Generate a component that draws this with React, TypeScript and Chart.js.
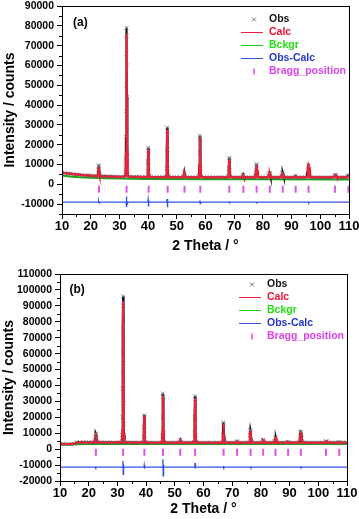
import React, { useEffect, useRef } from 'react';
import { Chart, registerables } from 'chart.js';

Chart.register(...registerables);

type P = [number, number];

const FONT = "'Liberation Sans', Arial, Helvetica, sans-serif";

// ---------- shared labels / colours ----------
const seriesNames = ['Obs', 'Calc', 'Bckgr', 'Obs-Calc', 'Bragg_position'];
const textColors = ['#111111', '#ee1030', '#22dd11', '#2236cc', '#dd44ee'];
const lineColors = ['#777777', '#f0203a', '#22cc22', '#3552e6', '#e050ea'];
const xTitle = '2 Theta / °';
const yTitle = 'Intensity / counts';
const xRange: P = [10, 110];
const xStep = 10;
const xMinorStep = 5;

// ---------- panel (a) ----------
const yRangeA: P = [-15000, 90000];
const yTicksA = [-10000, 0, 10000, 20000, 30000, 40000, 50000, 60000, 70000, 80000, 90000];
const obsA: P[] = [
  [10, 5900], [11, 5700], [12, 5500], [13, 5350], [14, 5150], [15, 5000], [16, 4850], [17, 4700], [18, 4550], [19, 4450], [20, 4350], [21, 4250], [22, 4200],
  [22.5, 4600], [22.65, 7200], [22.75, 9600], [22.85, 9300], [22.95, 7000], [23.1, 4700],
  [23.5, 4150], [24.5, 4100], [25.5, 4000], [26.5, 3950], [27.5, 3900], [28.5, 3850], [29.5, 3800], [30.5, 3800], [31.5, 3800],
  [32.1, 4600], [32.2, 7000], [32.25, 13000], [32.3, 24000], [32.35, 37000], [32.4, 50000], [32.45, 66000], [32.5, 79000], [32.55, 75000], [32.6, 60000], [32.65, 44000], [32.7, 29000], [32.75, 16000], [32.8, 8500], [32.9, 5200],
  [33.3, 3900], [34, 3800], [35, 3750], [36, 3700], [37, 3700], [38, 3650], [39, 3650], [39.7, 3800],
  [39.85, 6500], [39.95, 11000], [40.05, 18400], [40.1, 17000], [40.2, 11500], [40.3, 6000], [40.5, 3900],
  [41, 3650], [42, 3600], [43, 3600], [44, 3600], [45, 3600], [46, 3650], [46.3, 4000],
  [46.45, 8000], [46.55, 17000], [46.65, 28700], [46.7, 27000], [46.8, 17500], [46.9, 8000], [47.1, 4000],
  [48, 3600], [49, 3550], [50, 3550], [51, 3550], [52, 3550], [52.4, 4200], [52.6, 6000], [52.8, 4200],
  [53.5, 3550], [54.5, 3500], [55.5, 3500], [56.5, 3500], [57.5, 3600], [57.7, 4500],
  [57.85, 9000], [57.95, 16000], [58.05, 24500], [58.1, 23500], [58.2, 15500], [58.3, 8000], [58.5, 4000],
  [59.5, 3500], [60.5, 3500], [61.5, 3500], [62.5, 3500], [63.5, 3500], [64.5, 3500], [65.5, 3500], [66.5, 3500], [67.5, 3500], [67.9, 4200],
  [68.1, 8000], [68.25, 13400], [68.35, 12500], [68.5, 7000], [68.7, 4000],
  [69.5, 3500], [70.5, 3500], [71.5, 3500], [72.5, 3500], [72.9, 4000], [73.1, 4800], [73.3, 4000],
  [74, 3500], [75, 3500], [76, 3500], [77, 3500], [77.4, 4200], [77.6, 7500], [77.75, 10200], [77.85, 9600], [78.0, 6500], [78.2, 4000],
  [79, 3500], [80, 3500], [81, 3500], [81.9, 3900], [82.1, 5600], [82.3, 5800], [82.5, 5300], [82.7, 3900],
  [83.5, 3500], [84.5, 3500], [85.5, 3500], [86.4, 3900], [86.7, 5800], [86.9, 6000], [87.1, 5000], [87.3, 3800],
  [88, 3500], [89, 3500], [90, 3500], [91, 3600], [91.4, 4200], [91.7, 3600],
  [92.5, 3500], [93.5, 3500], [94.5, 3500], [95.3, 4000], [95.6, 7000], [95.8, 9600], [96.0, 9400], [96.2, 7500], [96.4, 4500],
  [97, 3500], [98, 3500], [99, 3500], [100, 3500], [101, 3500], [102, 3500], [103, 3500], [104, 3500], [104.8, 3900], [105.1, 4800], [105.4, 4700], [105.7, 3900],
  [106.5, 3500], [107.5, 3500], [108.5, 3500], [109.3, 3700], [109.7, 4500], [110, 4000],
];
const calcA: P[] = [
  [10, 5700], [15, 4900], [20, 4300], [22.4, 4150], [22.6, 5500], [22.75, 8800], [22.9, 5500], [23.1, 4100],
  [30, 3800], [32.1, 3900], [32.3, 16000], [32.5, 76000], [32.7, 16000], [32.9, 3900],
  [39.8, 3650], [39.95, 8000], [40.05, 17500], [40.2, 8000], [40.4, 3650],
  [46.3, 3600], [46.5, 9000], [46.65, 27500], [46.8, 9000], [47.0, 3600],
  [52.3, 3550], [52.6, 5600], [52.9, 3550],
  [57.7, 3500], [57.9, 10000], [58.05, 23500], [58.2, 10000], [58.4, 3500],
  [67.9, 3500], [68.1, 7500], [68.25, 12500], [68.4, 7500], [68.6, 3500],
  [72.8, 3500], [73.1, 4400], [73.4, 3500],
  [77.4, 3500], [77.6, 7000], [77.8, 9500], [78.0, 7000], [78.2, 3500],
  [81.9, 3500], [82.2, 5200], [82.4, 5300], [82.7, 3500],
  [86.5, 3500], [86.8, 5500], [87.0, 5400], [87.3, 3500],
  [91.1, 3500], [91.4, 4000], [91.7, 3500],
  [95.4, 3500], [95.7, 7500], [95.9, 9300], [96.1, 8000], [96.4, 3500],
  [104.9, 3500], [105.2, 4600], [105.5, 4500], [105.8, 3500],
  [109.4, 3500], [109.8, 4300], [110, 4000],
];
const bkgA: P[] = [
  [10, 4400], [12, 4100], [15, 3700], [20, 3300], [25, 3050], [30, 2900], [40, 2700], [60, 2550], [80, 2500], [110, 2450],
];
const diffA: P[] = [
  [10, -9000], [22.6, -9000], [22.75, -8500], [22.9, -9400], [23.1, -9000],
  [32.3, -9000], [32.4, -6200], [32.5, -11600], [32.6, -7800], [32.7, -10000], [32.85, -9000],
  [39.9, -9000], [40.0, -7800], [40.1, -11300], [40.2, -8400], [40.3, -9000],
  [46.5, -9000], [46.6, -7400], [46.7, -11600], [46.8, -8200], [46.9, -9000],
  [58.0, -9000], [58.05, -8200], [58.15, -9800], [58.3, -9000],
  [68.2, -9000], [68.25, -8600], [68.35, -9300], [68.5, -9000],
  [77.7, -9000], [77.8, -8700], [77.9, -9200], [78.0, -9000],
  [95.8, -9000], [95.9, -8700], [96.0, -9300], [96.1, -9000],
  [110, -9000],
];
const braggA = [22.9, 32.5, 40.2, 46.8, 52.7, 58.2, 68.3, 73.2, 77.8, 82.4, 86.9, 91.4, 95.9, 105.1, 109.8];
const braggLevelA = -2500;

// ---------- panel (b) ----------
const yRangeB: P = [-20000, 110000];
const yTicksB = [-20000, -10000, 0, 10000, 20000, 30000, 40000, 50000, 60000, 70000, 80000, 90000, 100000, 110000];
const obsB: P[] = [
  [10, 3300], [11, 3300], [12, 3250], [13, 3250], [14, 3300], [15, 3350], [15.8, 4300], [17, 4400], [18, 4400], [19, 4350], [20, 4350], [21, 4300], [21.8, 4300],
  [22.1, 4800], [22.3, 7500], [22.45, 9900], [22.55, 9500], [22.7, 7000], [22.9, 4600],
  [23.5, 4300], [24.5, 4300], [25.5, 4250], [26.5, 4250], [27.5, 4200], [28.5, 4200], [29.5, 4200], [30.5, 4200], [31.4, 4300],
  [31.6, 5000], [31.7, 9000], [31.75, 20000], [31.8, 38000], [31.85, 48000], [31.9, 61000], [31.95, 75500], [32.0, 96000], [32.05, 90000], [32.1, 54000], [32.15, 38000], [32.2, 29000], [32.25, 16000], [32.3, 9000], [32.4, 5500], [32.6, 4300],
  [33.5, 4200], [34.5, 4200], [35.5, 4150], [36.5, 4150], [37.5, 4150], [38.5, 4150], [39.0, 4300],
  [39.15, 7500], [39.25, 14000], [39.35, 21400], [39.4, 20000], [39.5, 12000], [39.6, 6500], [39.8, 4300],
  [40.5, 4150], [41.5, 4100], [42.5, 4100], [43.5, 4100], [44.5, 4100], [45.5, 4200],
  [45.65, 8000], [45.75, 20000], [45.85, 35000], [45.9, 33000], [46.0, 21000], [46.1, 10000], [46.3, 4500],
  [47, 4100], [48, 4100], [49, 4100], [50, 4100], [51, 4100], [51.6, 4500], [51.9, 5800], [52.2, 4500],
  [53, 4100], [54, 4100], [55, 4100], [56, 4100], [56.7, 4600],
  [56.85, 10000], [56.95, 20000], [57.05, 33300], [57.1, 31500], [57.2, 19000], [57.3, 9000], [57.5, 4500],
  [58.5, 4100], [59.5, 4100], [60.5, 4100], [61.5, 4100], [62.5, 4100], [63.5, 4100], [64.5, 4100], [65.5, 4100], [66.5, 4200],
  [66.75, 9000], [66.9, 16800], [67.0, 15500], [67.15, 8000], [67.35, 4300],
  [68.5, 4100], [69.5, 4100], [70.5, 4100], [71.4, 4300], [71.7, 5000], [72.0, 4300],
  [73, 4100], [74, 4100], [75, 4100], [75.9, 4500], [76.15, 9000], [76.3, 12000], [76.4, 11000], [76.6, 6500], [76.8, 4300],
  [78, 4100], [79, 4100], [80, 4100], [80.4, 4400], [80.7, 5700], [80.9, 5400], [81.2, 4300],
  [82.5, 4100], [83.5, 4100], [84.5, 4200], [84.8, 5000], [85.0, 7000], [85.2, 7400], [85.4, 6000], [85.7, 4300],
  [86.5, 4100], [87.5, 4100], [88.5, 4100], [89.1, 4200], [89.4, 4500], [89.7, 4200],
  [90.5, 4100], [91.5, 4100], [92.5, 4100], [93.3, 4600], [93.6, 8000], [93.8, 10900], [94.0, 10500], [94.2, 7000], [94.5, 4400],
  [95.5, 4100], [96.5, 4100], [97.5, 4100], [98.5, 4100], [99.5, 4100], [100.5, 4100], [101.5, 4100], [102.3, 4300], [102.6, 5000], [102.9, 4900], [103.2, 4300],
  [104, 4100], [105, 4100], [106, 4100], [106.9, 4200], [107.3, 4500], [107.6, 4200],
  [108.5, 4100], [109.5, 4100], [110, 4100],
];
const calcB: P[] = [
  [10, 3200], [15, 3250], [15.8, 4200], [22, 4250], [22.2, 5500], [22.45, 9500], [22.7, 5500], [22.9, 4250],
  [31.5, 4200], [31.7, 12000], [31.95, 93000], [32.2, 12000], [32.4, 4200],
  [39.0, 4150], [39.2, 9000], [39.35, 20500], [39.5, 9000], [39.7, 4150],
  [45.5, 4100], [45.7, 12000], [45.85, 33500], [46.0, 12000], [46.2, 4100],
  [51.6, 4100], [51.9, 5600], [52.2, 4100],
  [56.7, 4100], [56.9, 12000], [57.05, 32000], [57.2, 12000], [57.4, 4100],
  [66.6, 4100], [66.8, 9000], [66.95, 16000], [67.1, 9000], [67.3, 4100],
  [71.4, 4100], [71.7, 4800], [72.0, 4100],
  [76.0, 4100], [76.2, 8500], [76.35, 11500], [76.5, 8500], [76.7, 4100],
  [80.4, 4100], [80.7, 5600], [80.9, 5300], [81.2, 4100],
  [84.8, 4100], [85.05, 7000], [85.25, 7100], [85.5, 4100],
  [89.1, 4100], [89.4, 4400], [89.7, 4100],
  [93.4, 4100], [93.65, 8500], [93.9, 10500], [94.1, 8000], [94.4, 4100],
  [102.3, 4100], [102.65, 4900], [102.9, 4800], [103.2, 4100],
  [106.9, 4100], [107.3, 4400], [107.6, 4100], [110, 4100],
];
const bkgB: P[] = [
  [10, 2800], [14, 2800], [15, 3150], [20, 3300], [40, 3300], [80, 3250], [110, 3200],
];
const diffB: P[] = [
  [10, -11300], [22.3, -11300], [22.4, -10800], [22.5, -11700], [22.6, -11300],
  [31.85, -11300], [31.95, -7500], [32.0, -15800], [32.1, -9500], [32.2, -12500], [32.3, -11300],
  [39.25, -11300], [39.35, -10000], [39.45, -12300], [39.55, -11300],
  [45.75, -11300], [45.85, -6400], [45.95, -16700], [46.05, -9800], [46.15, -11300],
  [56.95, -11300], [57.05, -8800], [57.15, -12200], [57.25, -11300],
  [66.9, -11300], [67.0, -10600], [67.1, -11700], [67.2, -11300],
  [76.3, -11300], [76.35, -10800], [76.45, -11800], [76.55, -11300],
  [93.8, -11300], [93.9, -10700], [94.0, -11900], [94.1, -11300],
  [110, -11300],
];
const braggB = [22.5, 32.0, 39.4, 45.9, 51.9, 57.1, 67.0, 71.7, 76.4, 80.8, 85.1, 89.5, 93.9, 102.7, 107.3];
const braggLevelB = -2000;

type PanelCfg = {
  tag: string;
  obs: P[]; calc: P[]; bkg: P[]; diff: P[]; bragg: number[]; braggLevel: number;
  yRange: P; yTicks: number[]; yMinor: number;
  width: number; height: number;
  padTop: number; padRight: number; yWidth: number; xHeight: number;
  xTitlePad: number; yTitlePad: number;
  legendDx: number; legendDy: number; tagDx: number; tagDy: number;
};

const panels: PanelCfg[] = [
  {
    tag: '(a)', obs: obsA, calc: calcA, bkg: bkgA, diff: diffA, bragg: braggA, braggLevel: braggLevelA,
    yRange: yRangeA, yTicks: yTicksA, yMinor: 5000, width: 359, height: 260,
    padTop: 6, padRight: 10, yWidth: 62, xHeight: 46, xTitlePad: 5, yTitlePad: 2,
    legendDx: 80, legendDy: 12.5, tagDx: 11, tagDy: 17,
  },
  {
    tag: '(b)', obs: obsB, calc: calcB, bkg: bkgB, diff: diffB, bragg: braggB, braggLevel: braggLevelB,
    yRange: yRangeB, yTicks: yTicksB, yMinor: 5000, width: 359, height: 259,
    padTop: 14, padRight: 12, yWidth: 60, xHeight: 38, xTitlePad: 1, yTitlePad: 1,
    legendDx: 80, legendDy: 10, tagDx: 9.5, tagDy: 15.5,
  },
];

function Panel({ cfg }: { cfg: PanelCfg }) {
  const ref = useRef<HTMLCanvasElement>(null);
  useEffect(() => {
    const toXY = (arr: P[]) => arr.map(([x, y]) => ({ x, y }));
    const decor = {
      id: 'decor',
      afterDraw(chart: any) {
        const { ctx, chartArea: a, scales } = chart;
        const xs = scales.x, ys = scales.y;
        ctx.save();
        // frame
        ctx.strokeStyle = '#000';
        ctx.lineWidth = 1;
        ctx.strokeRect(Math.round(a.left) + 0.5, Math.round(a.top) + 0.5, Math.round(a.right - a.left), Math.round(a.bottom - a.top));
        // minor ticks
        ctx.beginPath();
        for (let v = Math.ceil(xs.min / xMinorStep) * xMinorStep; v <= xs.max; v += xMinorStep) {
          if (v % xStep === 0) continue;
          const p = Math.round(xs.getPixelForValue(v)) + 0.5;
          ctx.moveTo(p, a.bottom);
          ctx.lineTo(p, a.bottom + 3);
        }
        for (let v = Math.ceil(ys.min / cfg.yMinor) * cfg.yMinor; v <= ys.max; v += cfg.yMinor) {
          if (cfg.yTicks.includes(v)) continue;
          const p = Math.round(ys.getPixelForValue(v)) + 0.5;
          ctx.moveTo(a.left, p);
          ctx.lineTo(a.left - 3, p);
        }
        ctx.stroke();
        // panel tag
        ctx.fillStyle = '#000';
        ctx.font = `bold 12px ${FONT}`;
        ctx.textBaseline = 'middle';
        ctx.textAlign = 'left';
        ctx.fillText(cfg.tag, a.left + cfg.tagDx, a.top + cfg.tagDy);
        // legend
        const tx = a.right - cfg.legendDx;
        ctx.font = `bold 10.5px ${FONT}`;
        seriesNames.forEach((name, i) => {
          const y = Math.round(a.top + cfg.legendDy + i * 13.1) + 0.5;
          ctx.strokeStyle = lineColors[i];
          ctx.lineWidth = 1;
          ctx.beginPath();
          if (i === 0) {
            const cx = tx - 15;
            ctx.moveTo(cx - 2, y - 2); ctx.lineTo(cx + 2, y + 2);
            ctx.moveTo(cx - 2, y + 2); ctx.lineTo(cx + 2, y - 2);
          } else if (i === 4) {
            ctx.lineWidth = 1.5;
            ctx.moveTo(tx - 15, y - 3); ctx.lineTo(tx - 15, y + 3);
          } else {
            ctx.moveTo(tx - 28, y); ctx.lineTo(tx - 6, y);
          }
          ctx.stroke();
          ctx.fillStyle = textColors[i];
          ctx.fillText(name, tx, y);
        });
        ctx.restore();
      },
    };
    const chart = new Chart(ref.current as HTMLCanvasElement, {
      type: 'scatter',
      data: {
        datasets: [
          { label: seriesNames[1], data: toXY(cfg.calc), showLine: true, borderColor: lineColors[1], borderWidth: 2, pointRadius: 0, order: 0 },
          {
            label: seriesNames[0], data: toXY(cfg.obs), showLine: true, borderColor: '#151515', borderWidth: 2.2,
            pointStyle: 'crossRot', pointRadius: 2.6, pointBorderColor: 'rgba(115,115,115,0.9)', pointBorderWidth: 1,
            pointBackgroundColor: 'rgba(0,0,0,0)', order: 1,
          },
          { label: seriesNames[2], data: toXY(cfg.bkg), showLine: true, borderColor: '#13a313', borderWidth: 2, pointRadius: 0, order: 2 },
          { label: seriesNames[3], data: toXY(cfg.diff), showLine: true, borderColor: lineColors[3], borderWidth: 1.3, pointRadius: 0, order: 3 },
          {
            label: seriesNames[4], data: cfg.bragg.map((x) => ({ x, y: cfg.braggLevel })), showLine: false,
            pointStyle: 'line', pointRotation: 90, pointRadius: 3.5, pointBorderColor: lineColors[4], pointBorderWidth: 2,
            borderColor: lineColors[4], order: 4,
          },
        ] as any,
      },
      options: {
        animation: false,
        responsive: false,
        maintainAspectRatio: false,
        events: [],
        layout: { padding: { top: cfg.padTop, right: cfg.padRight, left: 0, bottom: 0 } },
        plugins: { legend: { display: false }, tooltip: { enabled: false } },
        elements: { line: { tension: 0 } },
        scales: {
          x: {
            type: 'linear', min: xRange[0], max: xRange[1],
            ticks: { stepSize: xStep, padding: 0, color: '#000', font: { family: FONT, size: 13, weight: 'bold' }, maxRotation: 0, autoSkip: false, callback: (v: any) => String(v) },
            grid: { drawOnChartArea: false, tickLength: 5, color: '#000', lineWidth: 1 },
            border: { display: true, color: '#000', width: 1 },
            title: { display: true, text: xTitle, color: '#000', font: { family: FONT, size: 14, weight: 'bold' }, padding: { top: 0, bottom: cfg.xTitlePad } },
            afterFit: (s: any) => { s.height = cfg.xHeight; s.paddingLeft = 0; s.paddingRight = 0; },
          },
          y: {
            type: 'linear', min: cfg.yRange[0], max: cfg.yRange[1],
            afterBuildTicks: (s: any) => { s.ticks = cfg.yTicks.map((value) => ({ value })); },
            ticks: { padding: 3, color: '#000', font: { family: FONT, size: 10.5, weight: 'bold' }, autoSkip: false, callback: (v: any) => String(v) },
            grid: { drawOnChartArea: false, tickLength: 5, color: '#000', lineWidth: 1 },
            border: { display: true, color: '#000', width: 1 },
            title: { display: true, text: yTitle, color: '#000', font: { family: FONT, size: 14, weight: 'bold' }, padding: { top: cfg.yTitlePad, bottom: 0 } },
            afterFit: (s: any) => { s.width = cfg.yWidth; s.paddingTop = 0; s.paddingBottom = 0; },
          },
        },
      } as any,
      plugins: [decor],
    });
    return () => chart.destroy();
  }, [cfg]);
  return (
    <canvas
      ref={ref}
      width={cfg.width}
      height={cfg.height}
      style={{ display: 'block', width: cfg.width, height: cfg.height }}
    />
  );
}

export default function App() {
  return (
    <div style={{ position: 'fixed', left: 0, top: 0, width: 359, height: 519, background: '#fff' }}>
      {panels.map((p) => (
        <Panel key={p.tag} cfg={p} />
      ))}
    </div>
  );
}
